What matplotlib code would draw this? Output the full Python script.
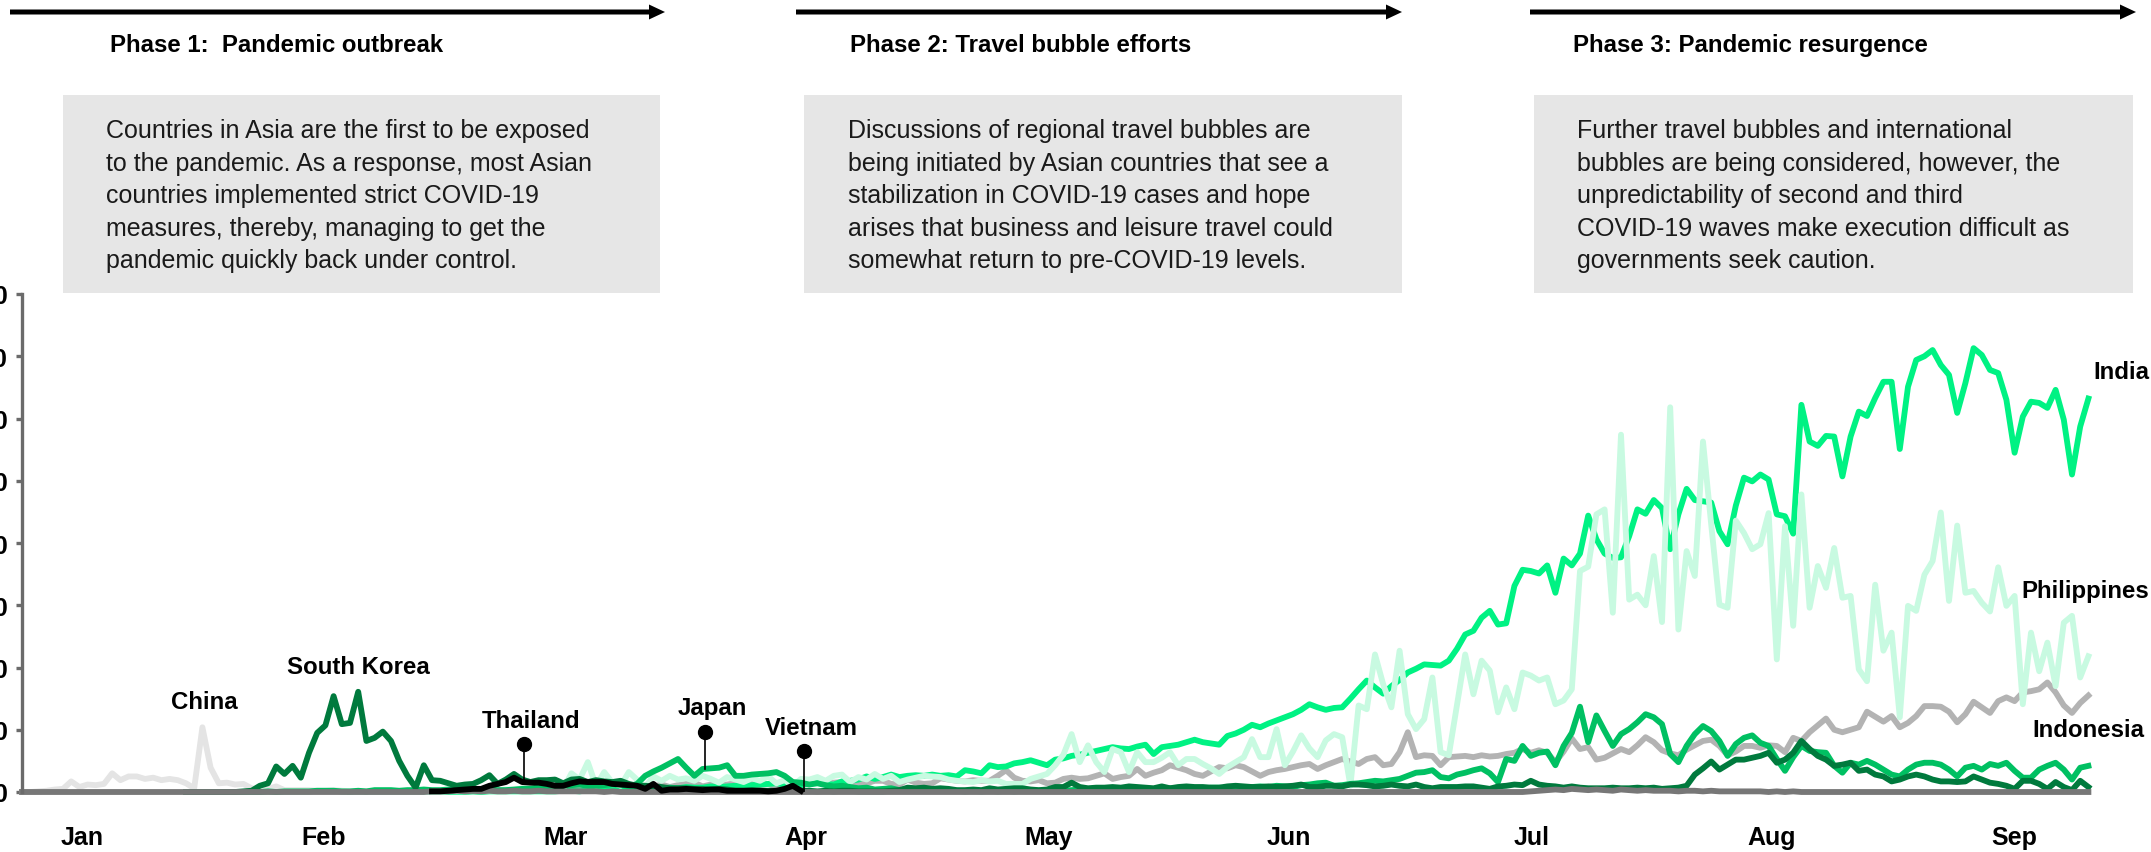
import numpy as np
import matplotlib
matplotlib.use("Agg")
import matplotlib.pyplot as plt
from matplotlib.patches import Rectangle

# daily new COVID-19 cases per million, day 0 = 22 Jan 2020, last day = 30 Sep 2020
china_start = 0
china = [
    0, 0, 0.1, 0.2, 0.4, 0.5, 1.7, 0.8, 1.2, 1.1,
    1.3, 3.0, 1.9, 2.5, 2.5, 2.1, 2.3, 1.9, 2.1, 1.9,
    1.4, 0.6, 10.4, 3.9, 1.4, 1.5, 1.2, 1.3, 0.6, 0.4,
    0.5, 0.9, 0.3, 0.3, 0.3, 0.3, 0.2, 0.2, 0.3, 0.2,
    0.1, 0.1, 0.1, 0.1, 0.0, 0.1, 0.0, 0.0, 0.0, 0.0,
]

south_korea_start = 20
south_korea = [
    0, 0, 0, 0, 0, 0, 0, 0.1, 0.2, 1.0,
    1.4, 4.1, 2.9, 4.2, 2.3, 6.3, 9.5, 10.7, 15.4, 10.9,
    11.1, 16.1, 8.2, 8.7, 9.7, 8.2, 5.0, 2.6, 0.7, 4.3,
    1.9, 1.8, 1.4, 1.0, 1.2, 1.3, 1.9, 2.7, 1.3, 2.0,
    2.9, 2.0, 1.6, 1.9, 1.9, 2.0, 1.4, 2.0, 2.1, 1.6,
    1.9, 1.7, 1.6, 1.8, 1.3, 1.0, 1.0, 0.9, 0.8, 0.6,
    0.6, 0.6, 0.5, 0.5, 0.4, 0.5, 0.4, 0.2, 0.2, 0.3,
    0.2, 0.2, 0.2, 0.2, 0.2, 0.2, 0.2, 0.1, 0.2, 0.1,
    0.2, 0.2, 0.1, 0.1, 0.1, 0.1, 0.2, 0.3, 0.7, 0.6,
    0.7, 0.5, 0.6, 0.5, 0.3, 0.3, 0.4, 0.3, 0.6, 0.4,
    0.5, 0.6, 0.6, 0.4, 0.3, 0.4, 0.8, 0.8, 1.5, 0.8,
    0.6, 0.7, 0.7, 0.8, 0.7, 0.9, 0.8, 0.7, 0.6, 0.9,
    0.6, 0.8, 0.9, 0.8, 0.8, 0.7, 0.7, 0.9, 1.0, 0.9,
    0.8, 0.8, 0.9, 0.8, 0.9, 1.0, 1.2, 0.8, 0.8, 1.0,
    1.0, 0.9, 1.2, 1.2, 1.1, 0.9, 1.0, 1.2, 1.0, 0.9,
    1.2, 0.8, 0.6, 0.8, 0.8, 0.8, 0.9, 0.9, 0.7, 0.5,
    0.9, 1.0, 1.2, 1.1, 1.8, 1.2, 1.0, 0.9, 0.7, 0.9,
    0.7, 0.6, 0.6, 0.6, 0.7, 0.6, 0.6, 0.7, 0.6, 0.7,
    0.5, 0.6, 0.7, 1.0, 2.8, 3.8, 4.9, 3.6, 4.4, 5.2,
    5.2, 5.5, 5.8, 6.3, 4.7, 5.2, 6.3, 8.2, 6.9, 5.8,
    5.2, 4.2, 4.4, 4.7, 3.4, 3.6, 2.8, 2.5, 1.7, 2.0,
    2.5, 2.8, 2.5, 2.0, 1.7, 1.7, 1.6, 1.7, 2.5, 2.0,
    1.5, 1.3, 1.0, 0.5, 1.8, 1.8, 1.3, 0.5, 1.6, 0.8, 0.3, 1.8, 0.8,
]

japan_start = 20
japan = [
    0, 0, 0, 0, 0, 0, 0, 0, 0, 0,
    0.1, 0, 0.1, 0.1, 0.1, 0.1, 0.2, 0.2, 0.2, 0.1,
    0.1, 0.2, 0.1, 0.3, 0.3, 0.3, 0.2, 0.3, 0.3, 0.4,
    0.3, 0.3, 0.4, 0.4, 0.3, 0.2, 0.3, 0.4, 0.3, 0.3,
    0.4, 0.5, 0.5, 0.8, 0.7, 0.8, 1.0, 1.1, 1.2, 1.0,
    1.0, 1.1, 1.3, 1.2, 0.9, 1.3, 2.6, 3.3, 3.9, 4.6,
    5.3, 3.9, 2.6, 3.7, 3.8, 3.9, 4.3, 2.6, 2.6, 2.8,
    2.9, 3.0, 3.2, 2.6, 1.6, 1.5, 1.2, 1.4, 1.1, 0.9,
    1.0, 0.8, 0.6, 0.7, 0.4, 0.5, 0.6, 0.3, 0.4, 0.3,
    0.3, 0.2, 0.3, 0.2, 0.2, 0.1, 0.2, 0.1, 0.2, 0.1,
    0.2, 0.1, 0.2, 0.3, 0.2, 0.3, 0.3, 0.2, 0.3, 0.4,
    0.3, 0.4, 0.3, 0.4, 0.4, 0.3, 0.4, 0.5, 0.4, 0.5,
    0.6, 0.4, 0.6, 0.5, 0.5, 0.7, 0.7, 0.6, 0.8, 0.7,
    0.8, 0.9, 0.8, 1.0, 0.9, 0.8, 1.1, 1.2, 1.4, 1.5,
    1.0, 1.1, 1.3, 1.4, 1.6, 1.8, 1.7, 1.9, 2.1, 2.6,
    3.1, 3.2, 3.5, 2.4, 2.2, 2.8, 3.1, 3.5, 3.8, 3.0,
    1.6, 5.3, 5.0, 7.4, 5.8, 6.3, 6.5, 4.3, 7.4, 9.5,
    13.7, 8.0, 12.3, 9.8, 7.4, 9.3, 10.1, 11.2, 12.5, 12.0,
    10.9, 6.1, 4.8, 7.4, 9.3, 10.6, 9.8, 8.2, 5.8, 7.7,
    8.7, 9.1, 7.9, 7.4, 5.3, 3.4, 5.6, 7.4, 6.6, 6.4,
    6.3, 4.2, 3.1, 4.7, 4.4, 5.0, 4.4, 3.6, 2.8, 2.5,
    3.6, 4.4, 4.7, 4.7, 4.4, 3.6, 2.5, 3.9, 4.2, 3.6,
    4.5, 4.2, 4.7, 3.4, 2.3, 2.3, 3.6, 4.2, 4.7, 3.6, 2.0, 3.9, 4.2,
]

thailand_start = 50
thailand = [
    0.1, 0.1, 0.2, 0.3, 0.4, 0.5, 0.5, 1.0, 1.3, 1.6,
    2.3, 1.6, 1.5, 1.5, 1.3, 1.0, 1.0, 1.4, 1.7, 1.6,
    1.6, 1.6, 1.3, 1.2, 1.1, 1.0, 0.5, 1.3, 0.2, 0.4,
    0.4, 0.5, 0.4, 0.3, 0.4, 0.4, 0.2, 0.2, 0.2, 0.2,
    0.2, 0.1, 0.2, 0.5, 1.0, 0.2,
]

vietnam_start = 0
vietnam = [
    0, 0, 0, 0, 0, 0, 0, 0, 0, 0, 0, 0, 0, 0, 0, 0, 0, 0, 0, 0,
    0, 0, 0, 0, 0, 0, 0, 0, 0, 0, 0, 0, 0, 0, 0, 0, 0, 0, 0, 0,
    0, 0, 0, 0, 0, 0, 0, 0, 0, 0, 0.1, 0.1, 0.1, 0.2, 0.1, 0.2, 0.1, 0.2, 0.1, 0.1,
    0.2, 0.1, 0.1, 0.2, 0.1, 0.1, 0.1, 0.1, 0.1, 0.1, 0.1, 0, 0.1, 0, 0, 0, 0, 0, 0, 0,
    0, 0, 0, 0, 0, 0, 0, 0, 0, 0, 0, 0, 0, 0, 0, 0, 0, 0, 0, 0,
    0, 0, 0, 0, 0, 0, 0, 0, 0, 0, 0, 0, 0, 0, 0, 0, 0, 0, 0, 0,
    0, 0, 0, 0, 0, 0, 0, 0, 0, 0, 0, 0, 0, 0, 0, 0, 0, 0, 0, 0,
    0, 0, 0, 0, 0, 0, 0, 0, 0, 0, 0, 0, 0, 0, 0, 0, 0, 0, 0, 0,
    0, 0, 0, 0, 0, 0, 0, 0, 0, 0, 0, 0, 0, 0, 0, 0, 0, 0, 0, 0,
    0, 0, 0, 0, 0.1, 0.2, 0.3, 0.4, 0.3, 0.5, 0.4, 0.3, 0.4, 0.3, 0.2, 0.4, 0.3, 0.2, 0.3, 0.2,
    0.2, 0.2, 0.1, 0.2, 0.2, 0.1, 0.2, 0.1, 0.1, 0.1, 0.1, 0.1, 0.1, 0, 0.1, 0, 0.1, 0, 0, 0,
    0, 0, 0, 0, 0, 0, 0, 0, 0, 0, 0, 0, 0, 0, 0, 0, 0, 0, 0, 0,
    0, 0, 0, 0, 0, 0, 0, 0, 0, 0, 0, 0, 0,
]

india_start = 40
india = [
    0, 0, 0, 0, 0, 0, 0, 0, 0, 0,
    0, 0, 0, 0, 0, 0.1, 0, 0.1, 0.1, 0.1,
    0.1, 0.1, 0.1, 0.1, 0.1, 0.1, 0.2, 0.2, 0.1, 0.3,
    0.3, 0.4, 0.3, 0.4, 0.4, 0.5, 0.3, 0.6, 0.6, 0.7,
    0.6, 0.8, 0.7, 0.7, 0.9, 0.8, 0.9, 1.0, 1.0, 1.1,
    1.2, 1.3, 1.4, 1.2, 1.4, 1.1, 1.4, 1.5, 1.3, 1.2,
    1.7, 1.8, 2.0, 2.5, 2.1, 2.4, 2.8, 2.4, 2.6, 2.7,
    2.6, 2.8, 2.6, 2.7, 2.5, 3.5, 3.3, 3.0, 4.3, 4.0,
    4.1, 4.6, 4.8, 5.1, 4.7, 4.3, 5.2, 5.4, 5.8, 6.0,
    6.3, 6.6, 6.9, 7.2, 7.0, 6.9, 7.3, 7.6, 6.1, 7.2,
    7.4, 7.6, 8.0, 8.4, 8.0, 7.8, 7.6, 9.0, 9.4, 10.0,
    10.8, 10.4, 11.0, 11.5, 12.0, 12.5, 13.2, 14.1, 13.6, 13.2,
    13.5, 13.6, 15.0, 16.5, 17.9, 16.8, 15.8, 17.0, 18.0, 19.2,
    19.8, 20.5, 20.4, 20.3, 21.1, 23.0, 25.3, 25.9, 28.0, 29.1,
    26.9, 27.1, 33.1, 35.7, 35.5, 35.1, 36.4, 32.0, 37.5, 36.4,
    38.3, 44.4, 40.6, 38.3, 37.6, 37.7, 41.1, 45.4, 44.7, 46.9,
    45.6, 39.0, 44.6, 48.7, 46.9, 46.7, 46.5, 41.9, 39.8, 46.0,
    50.5, 49.9, 51.0, 50.2, 44.6, 44.3, 41.5, 62.2, 56.3, 55.6,
    57.2, 57.1, 50.7, 57.1, 61.1, 60.4, 63.3, 65.9, 65.9, 55.1,
    65.1, 69.4, 70.0, 71.0, 68.6, 67.0, 60.9, 65.7, 71.3, 70.2,
    67.8, 67.3, 63.0, 54.5, 60.3, 62.7, 62.5, 61.7, 64.6, 59.8, 51.0, 58.7, 63.2,
]

philippines_start = 40
philippines = [
    0, 0, 0, 0, 0, 0, 0, 0, 0, 0,
    0, 0, 0.1, 0.1, 0.1, 0.2, 0.1, 0.2, 0.2, 0.4,
    0.3, 0.6, 0.8, 0.7, 0.8, 0.5, 0.5, 3.0, 2.0, 4.8,
    1.0, 3.2, 1.5, 1.0, 3.2, 2.0, 0.8, 2.5, 1.8, 2.6,
    2.0, 2.2, 1.8, 2.6, 2.1, 1.5, 2.4, 2.0, 1.6, 2.2,
    1.8, 2.5, 1.4, 1.9, 1.0, 2.1, 2.0, 2.4, 1.8, 2.6,
    2.8, 1.6, 2.4, 2.0, 2.9, 2.1, 2.6, 1.6, 2.0, 2.3,
    2.6, 2.5, 2.4, 2.0, 1.8, 1.7, 1.6, 1.9, 1.7, 1.8,
    1.3, 1.3, 1.3, 2.1, 2.5, 2.9, 4.3, 6.0, 9.3, 4.8,
    7.5, 4.8, 3.2, 6.9, 6.4, 3.2, 6.4, 4.8, 4.8, 5.5,
    6.4, 4.3, 5.3, 5.3, 4.5, 3.8, 2.9, 4.0, 4.8, 5.6,
    8.5, 5.6, 5.6, 10.1, 4.3, 6.5, 9.1, 7.0, 5.6, 8.3,
    9.3, 8.8, 1.0, 13.9, 13.3, 22.1, 17.3, 13.6, 22.7, 12.5,
    10.1, 11.7, 18.4, 6.4, 5.9, 14.0, 22.1, 15.7, 21.1, 19.5,
    12.8, 16.8, 13.3, 19.2, 18.7, 17.9, 18.4, 14.1, 14.7, 16.5,
    35.5, 36.2, 44.6, 45.4, 28.8, 57.4, 30.9, 31.7, 30.0, 37.9,
    27.3, 61.8, 26.1, 38.7, 34.7, 56.3, 43.0, 30.1, 29.6, 43.6,
    41.6, 39.0, 39.8, 44.8, 21.3, 42.7, 26.7, 47.8, 29.6, 36.3,
    32.8, 39.2, 31.2, 31.5, 19.7, 17.8, 33.3, 22.7, 25.6, 12.0,
    29.9, 29.1, 34.9, 37.1, 44.9, 30.7, 42.8, 32.0, 32.3, 30.4,
    29.0, 36.1, 29.9, 31.5, 14.1, 25.6, 19.4, 24.0, 17.0, 27.2, 28.3, 18.4, 21.8,
]

indonesia_start = 40
indonesia = [
    0, 0, 0, 0, 0, 0, 0, 0, 0, 0,
    0, 0, 0, 0.1, 0.1, 0.1, 0.1, 0.2, 0.2, 0.3,
    0.2, 0.3, 0.4, 0.4, 0.4, 0.5, 0.4, 0.5, 0.5, 0.5,
    0.5, 0.5, 0.7, 0.8, 0.4, 0.8, 0.6, 0.9, 1.2, 0.8,
    1.1, 1.3, 1.5, 0.9, 1.2, 1.0, 1.2, 1.4, 1.2, 1.3,
    1.1, 1.3, 0.8, 1.3, 1.4, 1.2, 1.3, 1.6, 1.4, 1.5,
    1.6, 1.6, 1.2, 1.4, 1.8, 1.8, 1.3, 1.2, 2.0, 1.5,
    1.3, 1.4, 2.2, 2.0, 1.8, 1.7, 1.9, 1.8, 1.8, 2.6,
    3.5, 2.3, 1.8, 1.7, 1.9, 1.4, 1.5, 2.1, 2.3, 2.1,
    2.2, 2.6, 3.0, 2.1, 2.4, 2.6, 3.7, 2.6, 3.1, 3.5,
    4.3, 3.9, 3.5, 2.9, 2.6, 3.3, 4.0, 3.8, 4.3, 4.0,
    3.3, 2.6, 3.2, 3.5, 3.7, 4.0, 4.3, 4.5, 3.7, 4.3,
    4.8, 5.3, 4.9, 4.5, 5.3, 5.6, 4.3, 4.5, 6.4, 9.6,
    5.6, 5.9, 5.8, 4.3, 5.6, 5.7, 5.8, 5.6, 5.9, 5.7,
    5.8, 6.1, 6.3, 6.9, 6.3, 6.7, 6.3, 4.8, 6.5, 8.6,
    6.9, 7.2, 5.2, 5.5, 6.2, 6.9, 6.4, 7.5, 8.8, 8.0,
    6.7, 6.2, 5.9, 6.8, 7.5, 8.2, 8.4, 7.4, 5.9, 6.5,
    7.4, 7.4, 7.1, 7.5, 7.4, 6.4, 8.7, 8.2, 9.6, 10.7,
    11.8, 10.0, 9.6, 10.0, 10.4, 12.9, 12.1, 11.3, 12.2, 10.4,
    11.1, 12.2, 13.8, 13.8, 13.7, 12.9, 11.2, 12.5, 14.5, 13.6,
    12.7, 14.6, 15.2, 14.6, 16.0, 16.2, 16.5, 17.6, 16.0, 13.9, 12.7, 14.3, 15.5,
]

months = ["Jan", "Feb", "Mar", "Apr", "May", "Jun", "Jul", "Aug", "Sep"]
month_pos = [7.3, 36.8, 66.3, 95.6, 125.2, 154.5, 184.1, 213.4, 243.0]

phases = [
    "Phase 1:  Pandemic outbreak",
    "Phase 2: Travel bubble efforts",
    "Phase 3: Pandemic resurgence",
]
notes = [
    "Countries in Asia are the first to be exposed\n"
    "to the pandemic. As a response, most Asian\n"
    "countries implemented strict COVID-19\n"
    "measures, thereby, managing to get the\n"
    "pandemic quickly back under control.",
    "Discussions of regional travel bubbles are\n"
    "being initiated by Asian countries that see a\n"
    "stabilization in COVID-19 cases and hope\n"
    "arises that business and leisure travel could\n"
    "somewhat return to pre-COVID-19 levels.",
    "Further travel bubbles and international\n"
    "bubbles are being considered, however, the\n"
    "unpredictability of second and third\n"
    "COVID-19 waves make execution difficult as\n"
    "governments seek caution.",
]

plt.rcParams["font.family"] = ["Liberation Sans", "DejaVu Sans"]
BIG = 18
LABEL = 17.3
NOTE = 18

W, H = 2151, 853
fig = plt.figure(figsize=(W / 100, H / 100), dpi=100)

# overlay in pixel units for the phase headers
top = fig.add_axes([0, 0, 1, 1])
top.set_xlim(0, W)
top.set_ylim(H, 0)
top.axis("off")

arrow_x = [(10, 665), (796, 1402), (1530, 2136)]
box_x = [(63, 660), (804, 1402), (1534, 2133)]
head_x = [110, 850, 1573]
text_x = [106, 848, 1577]
for i in range(3):
    a0, a1 = arrow_x[i]
    top.arrow(a0, 13, a1 - a0, 0, width=5, head_width=15, head_length=16,
              length_includes_head=True, color="black", lw=0)
    top.text(head_x[i], 45, phases[i], fontsize=LABEL, fontweight="bold",
             va="center", ha="left")
    b0, b1 = box_x[i]
    top.add_patch(Rectangle((b0, 96), b1 - b0, 198, color="#E6E6E6", lw=0))
    top.text(text_x[i], 119, notes[i], fontsize=NOTE, va="top", ha="left",
             linespacing=1.45, color="#1A1A1A")

# chart area: 8.2 px per day, y from 0 to 80 cases per million
ax = fig.add_axes([22 / W, 60 / H, 8.2 * 256 / W, 498 / H])
ax.set_xlim(0, 256)
ax.set_ylim(0, 80)
ax.patch.set_alpha(0)

series = [
    (china_start, china, "#E4E4E4"),
    (indonesia_start, indonesia, "#B3B3B3"),
    (india_start, india, "#00F283"),
    (philippines_start, philippines, "#C8FAE1"),
    (japan_start, japan, "#00C062"),
    (south_korea_start, south_korea, "#007A3D"),
    (vietnam_start, vietnam, "#777777"),
    (thailand_start, thailand, "#000000"),
]
for start, vals, col in series:
    ax.plot(np.arange(start, start + len(vals)), vals, color=col, lw=4.2,
            clip_on=False)

for side in ["top", "right", "bottom"]:
    ax.spines[side].set_visible(False)
ax.spines["left"].set_color("#6B6B6B")
ax.spines["left"].set_linewidth(2.4)

ax.set_yticks(range(0, 81, 10))
ax.set_yticklabels([str(v) for v in range(0, 81, 10)], fontweight="bold",
                   fontsize=BIG)
ax.tick_params(axis="y", length=4.5, width=2.4, color="#6B6B6B", pad=5.5)
ax.set_xticks(month_pos)
ax.set_xticklabels(months, fontweight="bold", fontsize=BIG)
ax.tick_params(axis="x", length=0, pad=24)

# country labels
ax.text(22.2, 14.6, "China", ha="center", va="center", fontsize=LABEL,
        fontweight="bold")
ax.text(41.0, 20.2, "South Korea", ha="center", va="center", fontsize=LABEL,
        fontweight="bold")
ax.text(252.6, 67.5, "India", ha="left", va="center", fontsize=LABEL,
        fontweight="bold", clip_on=False)
ax.text(243.8, 32.4, "Philippines", ha="left", va="center", fontsize=LABEL,
        fontweight="bold", clip_on=False)
ax.text(245.2, 10.1, "Indonesia", ha="left", va="center", fontsize=LABEL,
        fontweight="bold", clip_on=False)

# pin markers
pins = [("Thailand", 61.2, 1.6, 7.7, 11.5),
        ("Japan", 83.3, 3.7, 9.6, 13.6),
        ("Vietnam", 95.4, 0.0, 6.6, 10.4)]
for name, d, lo, hi, ty in pins:
    ax.plot([d, d], [lo, hi], color="black", lw=1.2, zorder=6)
    ax.plot(d, hi, "o", ms=10, color="black", zorder=6)
    ax.text(d + 0.9, ty, name, ha="center", va="center", fontsize=LABEL,
            fontweight="bold")

fig.savefig("out.png", dpi=100)
